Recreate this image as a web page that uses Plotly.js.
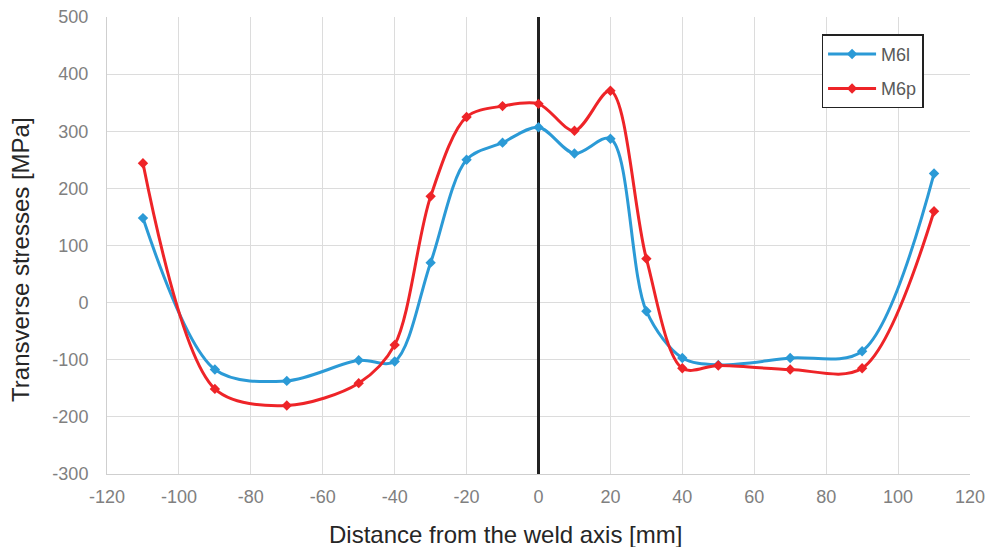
<!DOCTYPE html>
<html>
<head>
<meta charset="utf-8">
<script src="https://cdn.plot.ly/plotly-3.0.1.min.js"></script>
<style>html,body{margin:0;padding:0;background:#fff;}#chart{width:989px;height:547px;}</style>
</head>
<body>
<div id="chart"></div>
<script>
const xM6l = [-110, -90, -70, -50, -40, -30, -20, -10, 0, 10, 20, 30, 40, 50, 70, 90, 110];
const yM6l = [148, -117, -137, -101, -103, 70, 250, 280, 307, 261, 287, -15, -97, -109, -97, -85, 226];
const xM6p = [-110, -90, -70, -50, -40, -30, -20, -10, 0, 10, 20, 30, 40, 50, 70, 90, 110];
const yM6p = [244, -151, -180, -141, -74, 186, 325, 344, 348, 301, 371, 77, -115, -110, -117, -115, 160];
const xTicks = [-120, -100, -80, -60, -40, -20, 0, 20, 40, 60, 80, 100, 120];
const yTicks = [-300, -200, -100, 0, 100, 200, 300, 400, 500];

const traces = [
  {x: xM6l, y: yM6l, name: 'M6l', legendgroup: 'a', mode: 'lines+markers', type: 'scatter',
   line: {color: '#2b9ad6', width: 3, shape: 'spline', smoothing: 0.9},
   marker: {symbol: 'diamond', size: 8, color: '#2b9ad6'}},
  {x: xM6p, y: yM6p, name: 'M6p', legendgroup: 'b', mode: 'lines+markers', type: 'scatter',
   line: {color: '#ee2428', width: 3, shape: 'spline', smoothing: 0.9},
   marker: {symbol: 'diamond', size: 8, color: '#ee2428'}}
];

const layout = {
  width: 989, height: 547,
  margin: {l: 107, r: 19, t: 17, b: 73},
  paper_bgcolor: '#fff', plot_bgcolor: '#fff',
  font: {family: 'Liberation Sans, Arial, sans-serif', color: '#808080', size: 18},
  showlegend: true,
  legend: {x: 0.828, y: 0.962, xanchor: 'left', yanchor: 'top',
           bordercolor: '#222', borderwidth: 1.5, bgcolor: '#fff', itemwidth: 48,
           font: {size: 18, color: '#595959'}, tracegroupgap: 8},
  xaxis: {range: [-120, 120], tickvals: xTicks, ticktext: xTicks.map(String),
          tickfont: {size: 18, color: '#808080'},
          showgrid: true, gridcolor: '#dcdcdc', gridwidth: 1, zeroline: false,
          showline: true, linecolor: '#cfcfcf', linewidth: 1, ticks: '', ticklabelstandoff: 6,
          mirror: false, fixedrange: true},
  yaxis: {range: [-300, 500], tickvals: yTicks, ticktext: yTicks.map(String),
          tickfont: {size: 18, color: '#808080'},
          showgrid: true, gridcolor: '#dcdcdc', gridwidth: 1, zeroline: false,
          showline: true, linecolor: '#cfcfcf', linewidth: 1, ticks: '', ticklabelstandoff: 14,
          fixedrange: true},
  annotations: [
    {text: 'Distance from the weld axis [mm]', xref: 'paper', yref: 'paper',
     x: 0.462, y: -0.133, xanchor: 'center', yanchor: 'middle', showarrow: false,
     font: {size: 24, color: '#262626'}},
    {text: 'Transverse stresses [MPa]', xref: 'paper', yref: 'paper',
     x: -0.1, y: 0.47, xanchor: 'center', yanchor: 'middle', showarrow: false, textangle: -90,
     font: {size: 24, color: '#262626'}}
  ],
  shapes: [
    {type: 'line', xref: 'x', yref: 'y', x0: 0, x1: 0, y0: -300, y1: 500,
     line: {color: '#222', width: 3}, layer: 'between'}
  ]
};

Plotly.newPlot('chart', traces, layout, {displayModeBar: false, staticPlot: true});
</script>
</body>
</html>
